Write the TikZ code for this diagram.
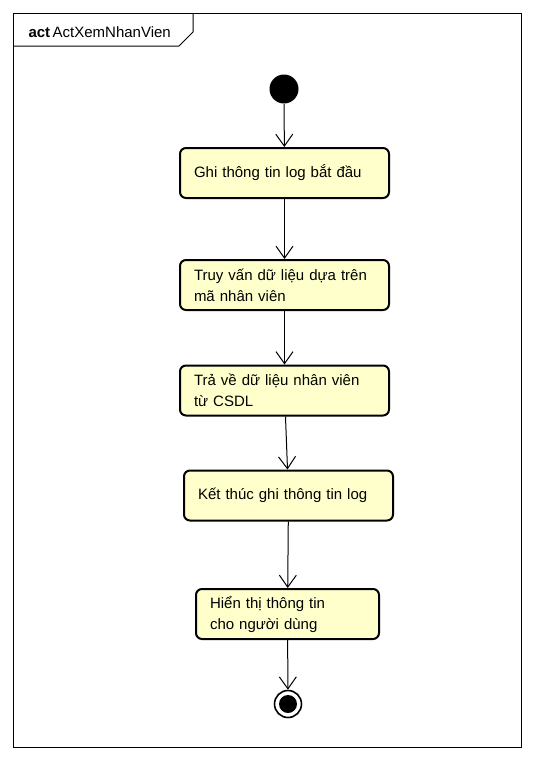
\documentclass[tikz,border=0pt]{standalone}
\usepackage{fontspec}
\setmainfont{Liberation Sans}
\usepackage{tikz}
\usetikzlibrary{arrows.meta, positioning}
\definecolor{actfill}{HTML}{FFFFCC}
\tikzset{>={Straight Barb[length=12pt, width=17pt]}}

\begin{document}
\begin{tikzpicture}[x=1pt, y=-1pt, line width=1pt,
        every node/.style={font=\fontsize{15pt}{21pt}\selectfont},
        action/.style={draw, line width=2pt, fill=actfill, rounded corners=6pt,
                minimum height=50pt, inner xsep=14pt, inner ysep=4pt, align=left, text width=#1},
        action/.default=181pt,
        initial/.style={circle, fill=black, minimum size=29pt, inner sep=0pt},
        final/.style={circle, draw, line width=1.6pt, minimum size=27pt, inner sep=0pt}]
        \useasboundingbox (0,0) rectangle (534,761);

        % frame and header tab
        \draw (13,13) rectangle (521,747);
        \draw (13,46) -- (179,46) -- (193,32) -- (193,13);
        \node[anchor=base west, inner sep=0pt] (T) at (28,37) {\textbf{act}\,ActXemNhanVien};

        \node[initial] (S) at (284,89) {};
        \node[action] (N1) at (284.5,173) {Ghi thông tin log bắt đầu};
        \node[action] (N2) at (284.5,285) {Truy vấn dữ liệu dựa trên\\mã nhân viên};
        \node[action] (N3) at (284.5,390.5) {Trả về dữ liệu nhân viên\\từ CSDL};
        \node[action] (N4) at (288.5,495.5) {Kết thúc ghi thông tin log};
        \node[action=155pt] (N5) at (287.5,614) {Hiển thị thông tin\\cho người dùng};
        \node[final] (E) at (288,704) {};
        \fill (E.center) circle[radius=9pt];

        \draw [->] (S)--(N1);
        \draw [->] (N1)--(N2);
        \draw [->] (N2)--(N3);
        \draw [->] (N3)--(N4);
        \draw [->] (N4)--(N5);
        \draw [->] (N5)--(E);
\end{tikzpicture}
\end{document}
